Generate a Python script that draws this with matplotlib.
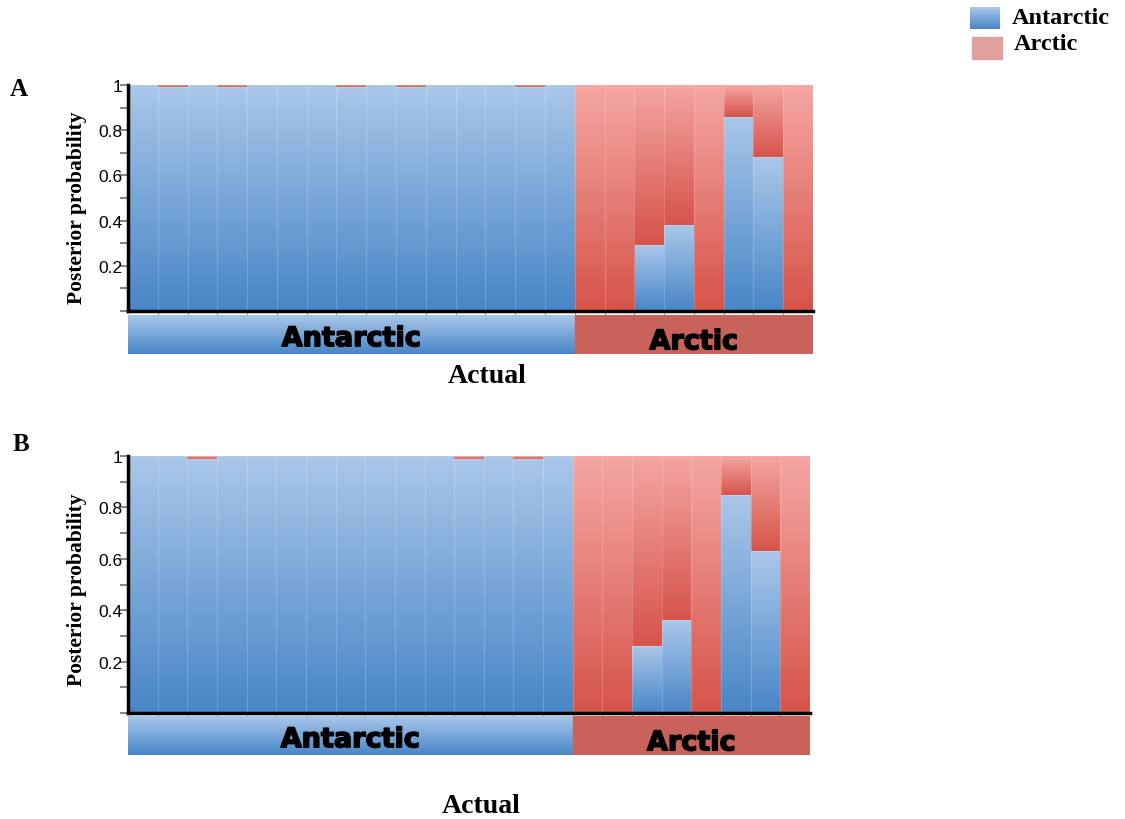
import numpy as np
import matplotlib
matplotlib.use('Agg')
import matplotlib.pyplot as plt
import matplotlib.patheffects as pe
from matplotlib.colors import LinearSegmentedColormap
from matplotlib.patches import Rectangle

# posterior probability of "Antarctic" for each sample (rest is "Arctic")
groups = ['Antarctic'] * 15 + ['Arctic'] * 8
post_A = [1, 0.99, 1, 0.99, 1, 1, 1, 0.99, 1, 0.99, 1, 1, 1, 0.99, 1,
          0, 0, 0.29, 0.38, 0, 0.86, 0.68, 0]
post_B = [1, 1, 0.99, 1, 1, 1, 1, 1, 1, 1, 1, 0.99, 1, 0.99, 1,
          0, 0, 0.26, 0.36, 0, 0.85, 0.63, 0]
ticks = [0.2, 0.4, 0.6, 0.8, 1]
tick_labels = ['0.2', '0.4', '0.6', '0.8', '1']

blue_cm = LinearSegmentedColormap.from_list('b', ['#4886c7', '#aac7e9'])
red_cm = LinearSegmentedColormap.from_list('r', ['#d6544a', '#f5a6a3'])
grad = np.linspace(0, 1, 256).reshape(-1, 1)

W, H = 1125, 820
fig = plt.figure(figsize=(W / 100, H / 100), dpi=100)
sans = ['Liberation Sans', 'DejaVu Sans']
serif = ['Liberation Serif', 'DejaVu Serif']
heavy = [pe.withStroke(linewidth=1.1, foreground='black')]


def fill_grad(ax, patches, cmap):
    for p in patches:
        x0, y0 = p.get_x(), p.get_y()
        w, h = p.get_width(), p.get_height()
        if h <= 0:
            continue
        ax.imshow(grad, cmap=cmap, origin='lower', aspect='auto',
                  extent=(x0, x0 + w, y0, y0 + h), zorder=1, interpolation='bilinear')
        p.set_facecolor('none')
        p.set_edgecolor((1, 1, 1, 0.12))
        p.set_linewidth(0.6)
        p.set_zorder(2)


def panel(post, left, right, top, bottom, band_top, band_bot, actual_xy, letter, letter_xy, label_y):
    ax = fig.add_axes([left / W, 1 - bottom / H, (right - left) / W, (bottom - top) / H])
    n = len(post)
    x = np.arange(n)
    ant = np.array(post)
    arc = 1 - ant
    b1 = ax.bar(x, ant, width=1.0, align='edge')
    b2 = ax.bar(x, arc, bottom=ant, width=1.0, align='edge')
    fill_grad(ax, b1, blue_cm)
    fill_grad(ax, b2, red_cm)
    ax.set_xlim(0, n)
    ax.set_ylim(0, 1)
    for s in ['top', 'right']:
        ax.spines[s].set_visible(False)
    ax.spines['left'].set_linewidth(2.5)
    ax.spines['bottom'].set_linewidth(2.5)
    yt = np.arange(0, 1.01, 0.1)
    ax.set_yticks(yt)
    ax.set_yticklabels(['' if round(v, 1) not in ticks else tick_labels[ticks.index(round(v, 1))]
                        for v in yt], family=sans, fontsize=12.5)
    ax.tick_params(axis='y', length=6, width=1.5, color='#888888', pad=-2)
    ax.set_xticks(x[1:])
    ax.set_xticklabels([])
    ax.tick_params(axis='x', length=3, width=0.8, color='#999999')
    ax.set_ylabel('Posterior probability', family=serif, fontweight='bold', fontsize=15.5)
    ax.yaxis.set_label_coords(-0.060, label_y)

    # group band under the axis
    n_ant = groups.count('Antarctic')
    bx = fig.add_axes([left / W, 1 - band_bot / H, (right - left) / W, (band_bot - band_top) / H])
    bx.imshow(grad, cmap=blue_cm, origin='lower', aspect='auto', extent=(0, n_ant, 0, 1))
    bx.add_patch(Rectangle((n_ant, 0), n - n_ant, 1, color='#c8625a'))
    bx.set_xlim(0, n)
    bx.set_ylim(0, 1)
    bx.axis('off')
    bx.text(n_ant / 2, 0.38, 'Antarctic', ha='center', va='center', fontsize=19.5,
            fontweight='heavy', family=['DejaVu Sans'], path_effects=heavy)
    bx.text(n_ant + (n - n_ant) / 2, 0.3, 'Arctic', ha='center', va='center', fontsize=19.5,
            fontweight='heavy', family=['DejaVu Sans'], path_effects=heavy)

    fig.text(actual_xy[0] / W, 1 - actual_xy[1] / H, 'Actual', ha='center', va='center',
             family=serif, fontweight='bold', fontsize=20)
    fig.text(letter_xy[0] / W, 1 - letter_xy[1] / H, letter, ha='center', va='center',
             family=serif, fontweight='bold', fontsize=18)


panel(post_A, 128, 813, 86, 312, 316, 355, (487, 377), 'A', (19, 90), 0.46)
panel(post_B, 128, 810, 457, 714, 717, 756, (481, 807), 'B', (21, 445), 0.485)

# legend
lg = fig.add_axes([970 / W, 1 - 30 / H, 30 / W, 22 / H])
lg.imshow(grad, cmap=blue_cm, origin='lower', aspect='auto', extent=(0, 1, 0, 1))
lg.axis('off')
fig.patches.append(Rectangle((972 / W, 1 - 60 / H), 30 / W, 22 / H, color='#dfa09e',
                             transform=fig.transFigure, figure=fig))
fig.text(1012 / W, 1 - 18 / H, 'Antarctic', ha='left', va='center', family=serif,
         fontweight='bold', fontsize=17.5)
fig.text(1014 / W, 1 - 45 / H, 'Arctic', ha='left', va='center', family=serif,
         fontweight='bold', fontsize=17.5)

fig.savefig('out.png', dpi=100)
